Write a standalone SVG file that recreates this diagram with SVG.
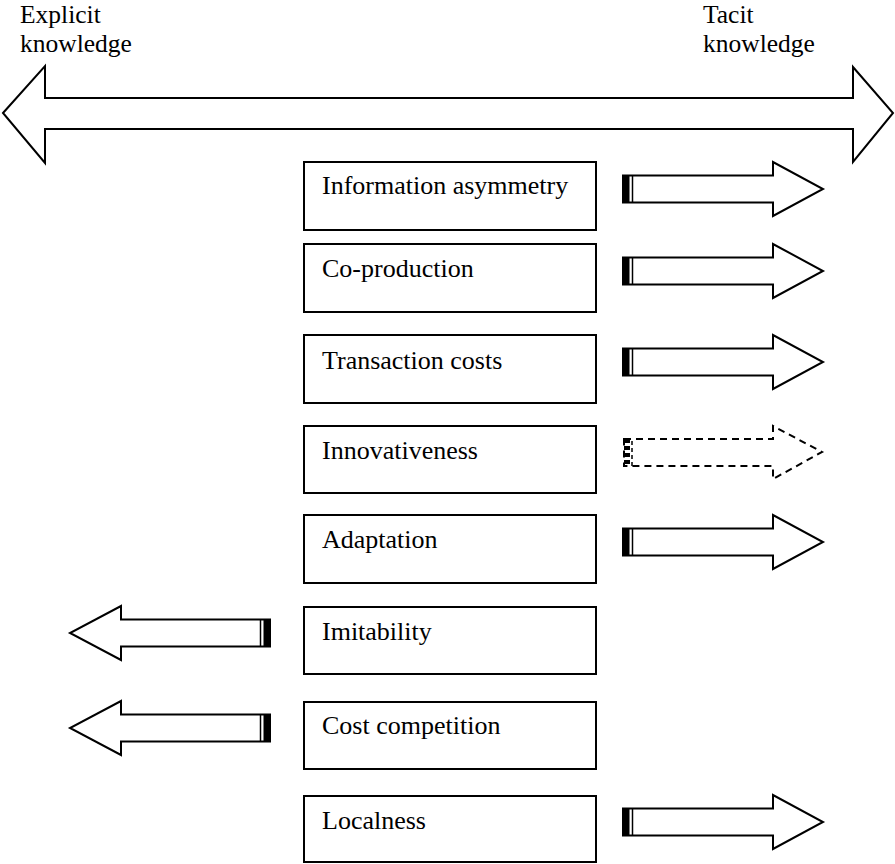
<svg xmlns="http://www.w3.org/2000/svg" width="895" height="864" viewBox="0 0 895 864">
  <style>
    .lbl { font-family: "Liberation Serif", "Times New Roman", serif; font-size: 26px; fill: #000; }
    .hdr { font-family: "Liberation Serif", "Times New Roman", serif; font-size: 25.5px; fill: #000; }
    .box { fill: #fff; stroke: #000; stroke-width: 2; }
    .arw { fill: #fff; stroke: #000; stroke-width: 2; stroke-linejoin: miter; }
    .dash { fill: #fff; stroke: #000; stroke-width: 2; stroke-dasharray: 7 5; }
  </style>
  <defs>
    <!-- right-pointing block arrow, origin at the centre of its tail -->
    <g id="arrowRight">
      <polygon class="arw" points="0,-13.5 150,-13.5 150,-27 200,0 150,27 150,13.5 0,13.5"/>
      <rect x="0" y="-13.5" width="6.5" height="27" fill="#000"/>
      <line x1="9.5" y1="-13.5" x2="9.5" y2="13.5" stroke="#000" stroke-width="1.5"/>
    </g>
    <!-- left-pointing block arrow, origin at the centre of its tail -->
    <g id="arrowLeft">
      <polygon class="arw" points="0,-13.5 -149,-13.5 -149,-27 -200,0 -149,27 -149,13.5 0,13.5"/>
      <rect x="-6.5" y="-13.5" width="6.5" height="27" fill="#000"/>
      <line x1="-9.5" y1="-13.5" x2="-9.5" y2="13.5" stroke="#000" stroke-width="1.5"/>
    </g>
  </defs>

  <rect width="895" height="864" fill="#fff"/>

  <!-- axis labels -->
  <g id="explicit">
    <text class="hdr" x="20" y="23">Explicit</text>
    <text class="hdr" x="20" y="52">knowledge</text>
  </g>
  <g id="tacit">
    <text class="hdr" x="703" y="23">Tacit</text>
    <text class="hdr" x="703" y="52">knowledge</text>
  </g>

  <!-- double-headed axis arrow -->
  <g id="axis">
    <polygon class="arw" points="3,113 45,66 45,98 853,98 853,67 893,113 853,162 853,129 45,129 45,163"/>
  </g>

  <!-- factor boxes -->
  <g id="info-asymmetry">
    <rect class="box" x="304" y="162" width="292" height="68"/>
    <text class="lbl" x="322" y="194">Information asymmetry</text>
  </g>
  <g id="co-production">
    <rect class="box" x="304" y="244" width="292" height="68"/>
    <text class="lbl" x="322" y="277">Co-production</text>
  </g>
  <g id="transaction-costs">
    <rect class="box" x="304" y="335" width="292" height="68"/>
    <text class="lbl" x="322" y="369">Transaction costs</text>
  </g>
  <g id="innovativeness">
    <rect class="box" x="304" y="426" width="292" height="67"/>
    <text class="lbl" x="322" y="459">Innovativeness</text>
  </g>
  <g id="adaptation">
    <rect class="box" x="304" y="515" width="292" height="68"/>
    <text class="lbl" x="322" y="548">Adaptation</text>
  </g>
  <g id="imitability">
    <rect class="box" x="304" y="607" width="292" height="67"/>
    <text class="lbl" x="322" y="640">Imitability</text>
  </g>
  <g id="cost-competition">
    <rect class="box" x="304" y="702" width="292" height="67"/>
    <text class="lbl" x="322" y="734">Cost competition</text>
  </g>
  <g id="localness">
    <rect class="box" x="304" y="796" width="292" height="66"/>
    <text class="lbl" x="322" y="829">Localness</text>
  </g>

  <!-- direction arrows -->
  <g id="connectors">
    <use href="#arrowRight" x="623" y="189"/>
    <use href="#arrowRight" x="623" y="271"/>
    <use href="#arrowRight" x="623" y="362"/>
    <g id="innovativeness-arrow">
      <polygon class="dash" points="624,439 773,439 773,426 822,452 773,479 773,466 624,466"/>
      <line x1="627" y1="439" x2="627" y2="466" stroke="#000" stroke-width="6" stroke-dasharray="4 3"/>
      <line x1="632" y1="441" x2="632" y2="466" stroke="#000" stroke-width="1.5" stroke-dasharray="4 3"/>
    </g>
    <use href="#arrowRight" x="623" y="542"/>
    <use href="#arrowLeft" x="270" y="633"/>
    <use href="#arrowLeft" x="270" y="728"/>
    <use href="#arrowRight" x="623" y="822"/>
  </g>
</svg>
